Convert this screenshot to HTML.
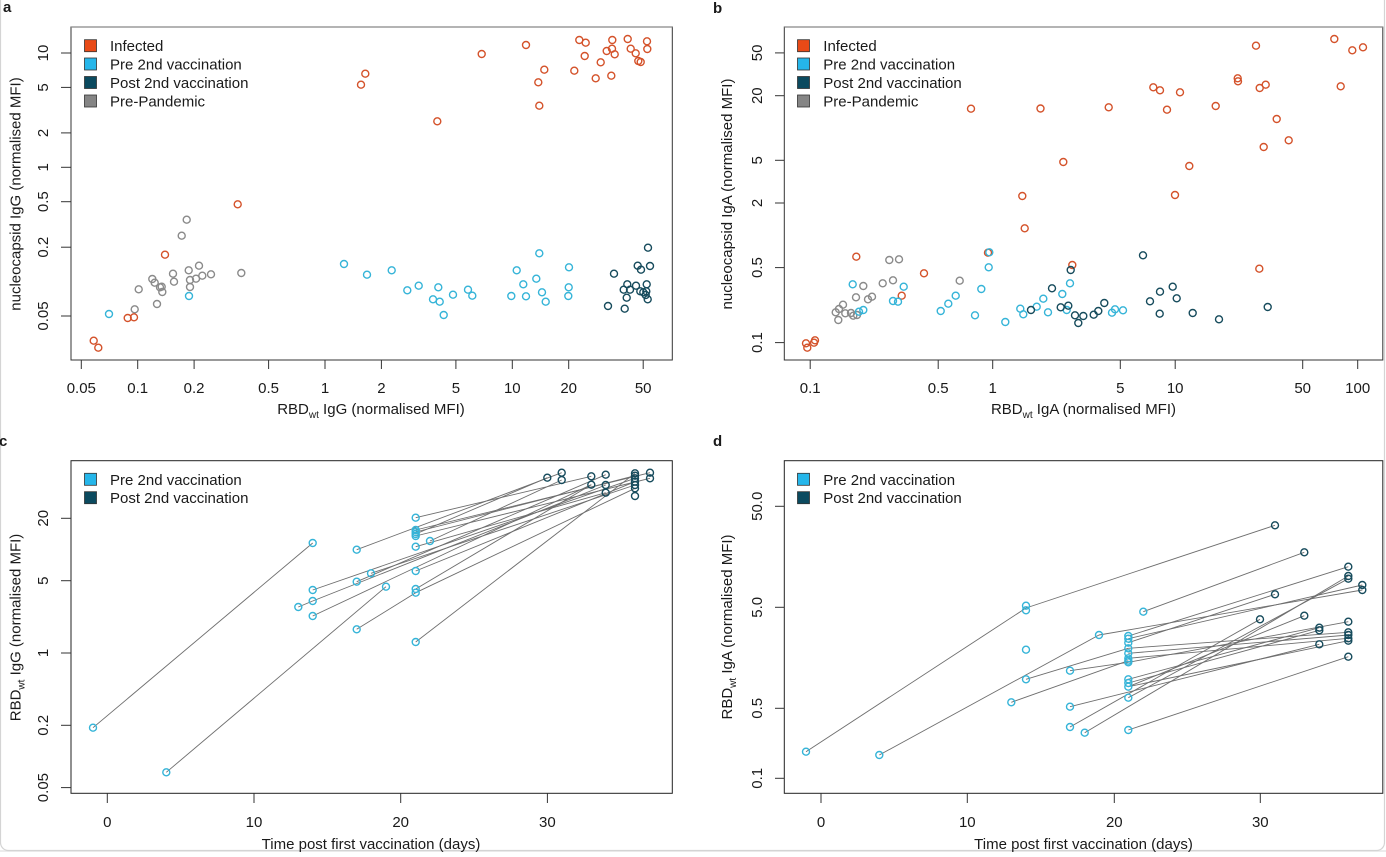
<!DOCTYPE html>
<html><head><meta charset="utf-8"><style>
html,body{margin:0;padding:0;background:#fff;}
body{width:1386px;height:852px;overflow:hidden;}
svg text{font-family:"Liberation Sans",Arial,sans-serif;fill:#1a1a1a;}
</style></head><body>
<svg width="1386" height="852" viewBox="0 0 1386 852" xmlns="http://www.w3.org/2000/svg">
<rect x="0" y="0" width="1386" height="852" fill="#fff"/>
<rect x="0" y="850" width="1386" height="2" fill="#ececec"/>
<rect x="0.5" y="-10" width="1384" height="860.5" rx="8" fill="none" stroke="#d4d4d4" stroke-width="1.2"/>

<g font-size="15">
<!-- panel labels -->
<text x="3" y="12" font-weight="bold" font-size="15">a</text>
<text x="713" y="13" font-weight="bold" font-size="15">b</text>
<text x="-1" y="446" font-weight="bold" font-size="15">c</text>
<text x="713" y="446" font-weight="bold" font-size="15">d</text>

<!-- ================= PANEL A ================= -->
<rect x="71" y="27" width="601.3" height="333" fill="none" stroke="#333" stroke-width="1"/>
<line x1="71" y1="27" x2="672.3" y2="27" stroke="#888" stroke-width="1.2"/>
<g stroke="#333" stroke-width="1">
<line x1="81.3" y1="360" x2="81.3" y2="369"/><line x1="137.7" y1="360" x2="137.7" y2="369"/>
<line x1="194.1" y1="360" x2="194.1" y2="369"/><line x1="268.6" y1="360" x2="268.6" y2="369"/>
<line x1="325" y1="360" x2="325" y2="369"/><line x1="381.4" y1="360" x2="381.4" y2="369"/>
<line x1="455.9" y1="360" x2="455.9" y2="369"/><line x1="512.3" y1="360" x2="512.3" y2="369"/>
<line x1="568.7" y1="360" x2="568.7" y2="369"/><line x1="643.2" y1="360" x2="643.2" y2="369"/>
<line x1="61" y1="53" x2="71" y2="53"/><line x1="61" y1="87.4" x2="71" y2="87.4"/>
<line x1="61" y1="132.9" x2="71" y2="132.9"/><line x1="61" y1="167.3" x2="71" y2="167.3"/>
<line x1="61" y1="201.7" x2="71" y2="201.7"/><line x1="61" y1="247.2" x2="71" y2="247.2"/>
<line x1="61" y1="316" x2="71" y2="316"/>
</g>
<g text-anchor="middle">
<text x="81.3" y="393">0.05</text><text x="137.7" y="393">0.1</text><text x="194.1" y="393">0.2</text>
<text x="268.6" y="393">0.5</text><text x="325" y="393">1</text><text x="381.4" y="393">2</text>
<text x="455.9" y="393">5</text><text x="512.3" y="393">10</text><text x="568.7" y="393">20</text>
<text x="643.2" y="393">50</text>
<text transform="translate(48,53) rotate(-90)">10</text>
<text transform="translate(48,87.4) rotate(-90)">5</text>
<text transform="translate(48,132.9) rotate(-90)">2</text>
<text transform="translate(48,167.3) rotate(-90)">1</text>
<text transform="translate(48,201.7) rotate(-90)">0.5</text>
<text transform="translate(48,247.2) rotate(-90)">0.2</text>
<text transform="translate(48,316) rotate(-90)">0.05</text>
<text x="371" y="414">RBD<tspan font-size="10" dy="4">wt</tspan><tspan dy="-4"> IgG (normalised MFI)</tspan></text>
<text transform="translate(20.5,194) rotate(-90)">nucleocapsid IgG (normalised MFI)</text>
</g>
<!-- legend a -->
<g stroke="#333" stroke-width="0.8">
<rect x="84.5" y="39.7" width="12" height="12" fill="#E84A17"/>
<rect x="84.5" y="58" width="12" height="12" fill="#25B6EA"/>
<rect x="84.5" y="76.5" width="12" height="12" fill="#0B4A5F"/>
<rect x="84.5" y="95" width="12" height="12" fill="#858585"/>
</g>
<text x="110" y="51">Infected</text>
<text x="110" y="69.5">Pre 2nd vaccination</text>
<text x="110" y="88">Post 2nd vaccination</text>
<text x="110" y="106.5">Pre-Pandemic</text>

<g fill="none" stroke-width="1.4">
<g stroke="#8A8A8A">
<circle cx="186.7" cy="219.7" r="3.5"/><circle cx="181.7" cy="235.7" r="3.5"/><circle cx="199" cy="265.7" r="3.5"/><circle cx="188.7" cy="270.3" r="3.5"/><circle cx="173" cy="273.7" r="3.5"/><circle cx="211" cy="274.3" r="3.5"/><circle cx="202.3" cy="275.7" r="3.5"/><circle cx="241.3" cy="273" r="3.5"/><circle cx="196" cy="278.7" r="3.5"/><circle cx="190" cy="280" r="3.5"/><circle cx="174" cy="281.7" r="3.5"/><circle cx="152.3" cy="279" r="3.5"/><circle cx="154.7" cy="282.7" r="3.5"/><circle cx="161.7" cy="286.7" r="3.5"/><circle cx="160" cy="287.3" r="3.5"/><circle cx="162.3" cy="292" r="3.5"/><circle cx="138.7" cy="289.3" r="3.5"/><circle cx="190" cy="287" r="3.5"/><circle cx="157" cy="304" r="3.5"/><circle cx="134.7" cy="309.3" r="3.5"/>
</g>
<g stroke="#D4522A">
<circle cx="93.7" cy="340.7" r="3.5"/><circle cx="98.3" cy="347.7" r="3.5"/><circle cx="127.7" cy="318" r="3.5"/><circle cx="134" cy="317.3" r="3.5"/><circle cx="165" cy="254.7" r="3.5"/><circle cx="237.7" cy="204.3" r="3.5"/><circle cx="361" cy="84.7" r="3.5"/><circle cx="365.3" cy="73.7" r="3.5"/><circle cx="481.7" cy="54" r="3.5"/><circle cx="526" cy="45" r="3.5"/><circle cx="437.3" cy="121.3" r="3.5"/><circle cx="538.3" cy="82.3" r="3.5"/><circle cx="539.3" cy="105.7" r="3.5"/><circle cx="544.3" cy="69.7" r="3.5"/><circle cx="574.3" cy="70.7" r="3.5"/><circle cx="579.3" cy="40" r="3.5"/><circle cx="585.7" cy="42.7" r="3.5"/><circle cx="584.7" cy="56" r="3.5"/><circle cx="595.7" cy="78.3" r="3.5"/><circle cx="600.7" cy="62.3" r="3.5"/><circle cx="606.7" cy="51" r="3.5"/><circle cx="612.3" cy="40" r="3.5"/><circle cx="612" cy="48.7" r="3.5"/><circle cx="614.7" cy="54.3" r="3.5"/><circle cx="611.3" cy="75.7" r="3.5"/><circle cx="627.7" cy="39" r="3.5"/><circle cx="630.7" cy="48.7" r="3.5"/><circle cx="635.7" cy="53.3" r="3.5"/><circle cx="638.3" cy="61" r="3.5"/><circle cx="640.7" cy="62" r="3.5"/><circle cx="647" cy="41.3" r="3.5"/><circle cx="647.3" cy="49" r="3.5"/>
</g>
<g stroke="#35B4D8">
<circle cx="109" cy="314" r="3.5"/><circle cx="189" cy="296" r="3.5"/><circle cx="344" cy="264" r="3.5"/><circle cx="367" cy="274.7" r="3.5"/><circle cx="391.7" cy="270.3" r="3.5"/><circle cx="407.3" cy="290.3" r="3.5"/><circle cx="418.7" cy="285.7" r="3.5"/><circle cx="433" cy="299.3" r="3.5"/><circle cx="438.3" cy="287.3" r="3.5"/><circle cx="439.7" cy="301.7" r="3.5"/><circle cx="443.7" cy="315" r="3.5"/><circle cx="453" cy="294.7" r="3.5"/><circle cx="468" cy="289.7" r="3.5"/><circle cx="472.3" cy="295.7" r="3.5"/><circle cx="511.3" cy="296" r="3.5"/><circle cx="516.7" cy="270.3" r="3.5"/><circle cx="523.3" cy="284.3" r="3.5"/><circle cx="526" cy="296.3" r="3.5"/><circle cx="536.3" cy="278.7" r="3.5"/><circle cx="539.3" cy="253.3" r="3.5"/><circle cx="542" cy="292.3" r="3.5"/><circle cx="545.7" cy="301.7" r="3.5"/><circle cx="568.3" cy="296" r="3.5"/><circle cx="568.7" cy="287.3" r="3.5"/><circle cx="569" cy="267.3" r="3.5"/>
</g>
<g stroke="#164B5C">
<circle cx="608" cy="306" r="3.5"/><circle cx="614" cy="273.7" r="3.5"/><circle cx="624.7" cy="308.7" r="3.5"/><circle cx="623.7" cy="289.7" r="3.5"/><circle cx="626.7" cy="297.7" r="3.5"/><circle cx="627.3" cy="284.3" r="3.5"/><circle cx="630" cy="289.7" r="3.5"/><circle cx="636" cy="285.7" r="3.5"/><circle cx="637.7" cy="265.7" r="3.5"/><circle cx="641" cy="269.7" r="3.5"/><circle cx="640.3" cy="291.3" r="3.5"/><circle cx="643.3" cy="292.3" r="3.5"/><circle cx="646.7" cy="284.3" r="3.5"/><circle cx="646.3" cy="291.3" r="3.5"/><circle cx="647.7" cy="299.3" r="3.5"/><circle cx="645.7" cy="295" r="3.5"/><circle cx="648" cy="247.7" r="3.5"/><circle cx="650" cy="266" r="3.5"/>
</g>
</g>

<!-- ================= PANEL B ================= -->
<rect x="784.3" y="27" width="598.5" height="333" fill="none" stroke="#333" stroke-width="1"/>
<line x1="784.3" y1="27" x2="1383" y2="27" stroke="#888" stroke-width="1.2"/>
<g stroke="#333" stroke-width="1">
<line x1="810.2" y1="360" x2="810.2" y2="369"/><line x1="938.2" y1="360" x2="938.2" y2="369"/>
<line x1="992.7" y1="360" x2="992.7" y2="369"/><line x1="1120.3" y1="360" x2="1120.3" y2="369"/>
<line x1="1175.2" y1="360" x2="1175.2" y2="369"/><line x1="1302.7" y1="360" x2="1302.7" y2="369"/>
<line x1="1357.7" y1="360" x2="1357.7" y2="369"/>
<line x1="775" y1="52.9" x2="784.3" y2="52.9"/><line x1="775" y1="95.7" x2="784.3" y2="95.7"/>
<line x1="775" y1="160.3" x2="784.3" y2="160.3"/><line x1="775" y1="203" x2="784.3" y2="203"/>
<line x1="775" y1="267.6" x2="784.3" y2="267.6"/><line x1="775" y1="342.6" x2="784.3" y2="342.6"/>
</g>
<g text-anchor="middle">
<text x="810.2" y="393">0.1</text><text x="938.2" y="393">0.5</text><text x="992.7" y="393">1</text>
<text x="1120.3" y="393">5</text><text x="1175.2" y="393">10</text><text x="1302.7" y="393">50</text>
<text x="1357.7" y="393">100</text>
<text transform="translate(762,52.9) rotate(-90)">50</text>
<text transform="translate(762,95.7) rotate(-90)">20</text>
<text transform="translate(762,160.3) rotate(-90)">5</text>
<text transform="translate(762,203) rotate(-90)">2</text>
<text transform="translate(762,267.6) rotate(-90)">0.5</text>
<text transform="translate(762,342.6) rotate(-90)">0.1</text>
<text x="1083.5" y="414">RBD<tspan font-size="10" dy="4">wt</tspan><tspan dy="-4"> IgA (normalised MFI)</tspan></text>
<text transform="translate(732,194) rotate(-90)">nucleocapsid IgA (normalised MFI)</text>
</g>
<g stroke="#333" stroke-width="0.8">
<rect x="797.5" y="39.7" width="12" height="12" fill="#E84A17"/>
<rect x="797.5" y="58" width="12" height="12" fill="#25B6EA"/>
<rect x="797.5" y="76.5" width="12" height="12" fill="#0B4A5F"/>
<rect x="797.5" y="95" width="12" height="12" fill="#858585"/>
</g>
<text x="823.3" y="51">Infected</text>
<text x="823.3" y="69.5">Pre 2nd vaccination</text>
<text x="823.3" y="88">Post 2nd vaccination</text>
<text x="823.3" y="106.5">Pre-Pandemic</text>

<g fill="none" stroke-width="1.4">
<g stroke="#8A8A8A">
<circle cx="889.3" cy="260" r="3.5"/><circle cx="899" cy="259.3" r="3.5"/><circle cx="959.7" cy="280.7" r="3.5"/><circle cx="893" cy="280.3" r="3.5"/><circle cx="882.7" cy="283.3" r="3.5"/><circle cx="863.3" cy="286" r="3.5"/><circle cx="872" cy="296.7" r="3.5"/><circle cx="868" cy="299.3" r="3.5"/><circle cx="856" cy="297.3" r="3.5"/><circle cx="843" cy="304.7" r="3.5"/><circle cx="839" cy="309" r="3.5"/><circle cx="835.7" cy="312.3" r="3.5"/><circle cx="845.3" cy="313.3" r="3.5"/><circle cx="851" cy="313" r="3.5"/><circle cx="853.3" cy="315.7" r="3.5"/><circle cx="838.3" cy="320" r="3.5"/><circle cx="857" cy="315" r="3.5"/>
</g>
<g stroke="#D4522A">
<circle cx="971" cy="108.7" r="3.5"/><circle cx="1040.5" cy="108.5" r="3.5"/><circle cx="1022.3" cy="196" r="3.5"/><circle cx="1024.7" cy="228.3" r="3.5"/><circle cx="988" cy="252.7" r="3.5"/><circle cx="856.3" cy="256.7" r="3.5"/><circle cx="924" cy="273.3" r="3.5"/><circle cx="901.7" cy="295.7" r="3.5"/><circle cx="806" cy="343.3" r="3.5"/><circle cx="807.3" cy="347.7" r="3.5"/><circle cx="814" cy="342.7" r="3.5"/><circle cx="815" cy="340.3" r="3.5"/><circle cx="1108.7" cy="107.3" r="3.5"/><circle cx="1063.3" cy="162" r="3.5"/><circle cx="1153.3" cy="87.3" r="3.5"/><circle cx="1160" cy="90.3" r="3.5"/><circle cx="1167" cy="109.7" r="3.5"/><circle cx="1180" cy="92.3" r="3.5"/><circle cx="1215.7" cy="106" r="3.5"/><circle cx="1189.3" cy="166" r="3.5"/><circle cx="1175" cy="195" r="3.5"/><circle cx="1237.7" cy="78.3" r="3.5"/><circle cx="1238" cy="81.3" r="3.5"/><circle cx="1256" cy="45.7" r="3.5"/><circle cx="1259.7" cy="88" r="3.5"/><circle cx="1265.7" cy="84.7" r="3.5"/><circle cx="1276.7" cy="119" r="3.5"/><circle cx="1263.7" cy="147" r="3.5"/><circle cx="1288.7" cy="140.3" r="3.5"/><circle cx="1259.3" cy="268.7" r="3.5"/><circle cx="1334.3" cy="39" r="3.5"/><circle cx="1352.3" cy="50.3" r="3.5"/><circle cx="1363" cy="47.3" r="3.5"/><circle cx="1340.7" cy="86.3" r="3.5"/><circle cx="1072.3" cy="265" r="3.5"/>
</g>
<g stroke="#35B4D8">
<circle cx="852.7" cy="284.3" r="3.5"/><circle cx="863.3" cy="310" r="3.5"/><circle cx="859" cy="311.7" r="3.5"/><circle cx="893" cy="301" r="3.5"/><circle cx="898" cy="301.7" r="3.5"/><circle cx="903.7" cy="286.7" r="3.5"/><circle cx="940.7" cy="311" r="3.5"/><circle cx="948.3" cy="303.7" r="3.5"/><circle cx="955.7" cy="295.7" r="3.5"/><circle cx="975" cy="315.3" r="3.5"/><circle cx="981.3" cy="289" r="3.5"/><circle cx="988.7" cy="267.3" r="3.5"/><circle cx="989.3" cy="252.3" r="3.5"/><circle cx="1005.3" cy="322" r="3.5"/><circle cx="1020.3" cy="308.7" r="3.5"/><circle cx="1023.3" cy="314.3" r="3.5"/><circle cx="1036.7" cy="306.7" r="3.5"/><circle cx="1043.3" cy="298.7" r="3.5"/><circle cx="1048" cy="312.3" r="3.5"/><circle cx="1062.3" cy="294" r="3.5"/><circle cx="1066.7" cy="310" r="3.5"/><circle cx="1070" cy="283.3" r="3.5"/><circle cx="1112" cy="312.7" r="3.5"/><circle cx="1115" cy="309.3" r="3.5"/><circle cx="1123" cy="310.3" r="3.5"/>
</g>
<g stroke="#164B5C">
<circle cx="1031" cy="310" r="3.5"/><circle cx="1052" cy="288.3" r="3.5"/><circle cx="1060.7" cy="307.3" r="3.5"/><circle cx="1068.3" cy="305.7" r="3.5"/><circle cx="1070.7" cy="270" r="3.5"/><circle cx="1075" cy="315.3" r="3.5"/><circle cx="1078.3" cy="323" r="3.5"/><circle cx="1083.3" cy="316" r="3.5"/><circle cx="1093.7" cy="314.7" r="3.5"/><circle cx="1098.3" cy="311" r="3.5"/><circle cx="1104.3" cy="303" r="3.5"/><circle cx="1143" cy="255.3" r="3.5"/><circle cx="1150" cy="301.3" r="3.5"/><circle cx="1160" cy="291.7" r="3.5"/><circle cx="1159.7" cy="313.7" r="3.5"/><circle cx="1172.7" cy="286.7" r="3.5"/><circle cx="1176.7" cy="298.3" r="3.5"/><circle cx="1192.7" cy="313" r="3.5"/><circle cx="1219" cy="319.3" r="3.5"/><circle cx="1267.7" cy="307" r="3.5"/>
</g>
</g>

<!-- ================= PANEL C ================= -->
<rect x="71" y="460.7" width="601.3" height="332.6" fill="none" stroke="#222" stroke-width="1"/>
<g stroke="#333" stroke-width="1">
<line x1="107.3" y1="793.3" x2="107.3" y2="803"/><line x1="254" y1="793.3" x2="254" y2="803"/>
<line x1="400.7" y1="793.3" x2="400.7" y2="803"/><line x1="547.4" y1="793.3" x2="547.4" y2="803"/>
<line x1="61" y1="518.3" x2="71" y2="518.3"/><line x1="61" y1="580.7" x2="71" y2="580.7"/>
<line x1="61" y1="653" x2="71" y2="653"/><line x1="61" y1="725.3" x2="71" y2="725.3"/>
<line x1="61" y1="787.6" x2="71" y2="787.6"/>
</g>
<g text-anchor="middle">
<text x="107.3" y="827">0</text><text x="254" y="827">10</text><text x="400.7" y="827">20</text><text x="547.4" y="827">30</text>
<text transform="translate(48,518.3) rotate(-90)">20</text>
<text transform="translate(48,580.7) rotate(-90)">5</text>
<text transform="translate(48,653) rotate(-90)">1</text>
<text transform="translate(48,725.3) rotate(-90)">0.2</text>
<text transform="translate(48,787.6) rotate(-90)">0.05</text>
<text x="371" y="849">Time post first vaccination (days)</text>
<text transform="translate(20.5,627.5) rotate(-90)">RBD<tspan font-size="10" dy="4">wt</tspan><tspan dy="-4"> IgG (normalised MFI)</tspan></text>
</g>
<g stroke="#333" stroke-width="0.8">
<rect x="84.5" y="473.3" width="12" height="12" fill="#25B6EA"/>
<rect x="84.5" y="491.7" width="12" height="12" fill="#0B4A5F"/>
</g>
<text x="110" y="484.8">Pre 2nd vaccination</text>
<text x="110" y="503.2">Post 2nd vaccination</text>
<g stroke="#6e6e6e" stroke-width="0.9">
<line x1="93" y1="727.7" x2="312.7" y2="543"/>
<line x1="166.3" y1="772.3" x2="386" y2="586.7"/>
<line x1="312.7" y1="590" x2="635" y2="478.3"/>
<line x1="312.7" y1="601" x2="605.7" y2="485"/>
<line x1="298.3" y1="607" x2="312.7" y2="601"/>
<line x1="312.7" y1="616" x2="591.3" y2="484.7"/>
<line x1="356.7" y1="549.7" x2="561.7" y2="472.7"/>
<line x1="356.7" y1="581.7" x2="605.7" y2="474.7"/>
<line x1="356.7" y1="629.3" x2="415.7" y2="592.7"/>
<line x1="371" y1="573.3" x2="635" y2="485"/>
<line x1="415.7" y1="517.7" x2="591.3" y2="476.3"/>
<line x1="415.7" y1="530" x2="650" y2="472.7"/>
<line x1="415.7" y1="532" x2="635" y2="475.7"/>
<line x1="415.7" y1="534" x2="547.3" y2="477.7"/>
<line x1="415.7" y1="536" x2="650" y2="478.3"/>
<line x1="430" y1="541" x2="561.7" y2="480"/>
<line x1="415.7" y1="546.7" x2="605.7" y2="492.7"/>
<line x1="415.7" y1="571" x2="635" y2="481.7"/>
<line x1="415.7" y1="589" x2="591.3" y2="484.7"/>
<line x1="415.7" y1="592.7" x2="635" y2="488.3"/>
<line x1="415.7" y1="642" x2="635" y2="473.3"/>
</g>
<g fill="none" stroke-width="1.4">
<g stroke="#35B4D8">
<circle cx="93" cy="727.7" r="3.5"/><circle cx="166.3" cy="772.3" r="3.5"/><circle cx="312.7" cy="543" r="3.5"/><circle cx="312.7" cy="590" r="3.5"/><circle cx="312.7" cy="601" r="3.5"/><circle cx="298.3" cy="607" r="3.5"/><circle cx="312.7" cy="616" r="3.5"/><circle cx="356.7" cy="549.7" r="3.5"/><circle cx="356.7" cy="581.7" r="3.5"/><circle cx="356.7" cy="629.3" r="3.5"/><circle cx="371" cy="573.3" r="3.5"/><circle cx="386" cy="586.7" r="3.5"/><circle cx="415.7" cy="517.7" r="3.5"/><circle cx="415.7" cy="530" r="3.5"/><circle cx="415.7" cy="532" r="3.5"/><circle cx="415.7" cy="534" r="3.5"/><circle cx="415.7" cy="536" r="3.5"/><circle cx="430" cy="541" r="3.5"/><circle cx="415.7" cy="546.7" r="3.5"/><circle cx="415.7" cy="571" r="3.5"/><circle cx="415.7" cy="589" r="3.5"/><circle cx="415.7" cy="592.7" r="3.5"/><circle cx="415.7" cy="642" r="3.5"/>
</g>
<g stroke="#164B5C">
<circle cx="547.3" cy="477.7" r="3.5"/><circle cx="561.7" cy="472.7" r="3.5"/><circle cx="561.7" cy="480" r="3.5"/><circle cx="591.3" cy="476.3" r="3.5"/><circle cx="591.3" cy="484.7" r="3.5"/><circle cx="605.7" cy="474.7" r="3.5"/><circle cx="605.7" cy="485" r="3.5"/><circle cx="605.7" cy="492.7" r="3.5"/><circle cx="635" cy="473.3" r="3.5"/><circle cx="635" cy="475.7" r="3.5"/><circle cx="635" cy="478.3" r="3.5"/><circle cx="635" cy="481.7" r="3.5"/><circle cx="635" cy="485" r="3.5"/><circle cx="635" cy="488.3" r="3.5"/><circle cx="635" cy="496" r="3.5"/><circle cx="650" cy="472.7" r="3.5"/><circle cx="650" cy="478.3" r="3.5"/>
</g>
</g>

<!-- ================= PANEL D ================= -->
<rect x="784.3" y="460.7" width="598.5" height="332.6" fill="none" stroke="#222" stroke-width="1"/>
<g stroke="#333" stroke-width="1">
<line x1="821" y1="793.3" x2="821" y2="803"/><line x1="967.3" y1="793.3" x2="967.3" y2="803"/>
<line x1="1114.3" y1="793.3" x2="1114.3" y2="803"/><line x1="1260.3" y1="793.3" x2="1260.3" y2="803"/>
<line x1="775" y1="506.3" x2="784.3" y2="506.3"/><line x1="775" y1="607.3" x2="784.3" y2="607.3"/>
<line x1="775" y1="708.3" x2="784.3" y2="708.3"/><line x1="775" y1="778.3" x2="784.3" y2="778.3"/>
</g>
<g text-anchor="middle">
<text x="821" y="827">0</text><text x="967.3" y="827">10</text><text x="1114.3" y="827">20</text><text x="1260.3" y="827">30</text>
<text transform="translate(762,506.3) rotate(-90)">50.0</text>
<text transform="translate(762,607.3) rotate(-90)">5.0</text>
<text transform="translate(762,708.3) rotate(-90)">0.5</text>
<text transform="translate(762,778.3) rotate(-90)">0.1</text>
<text x="1083.5" y="849">Time post first vaccination (days)</text>
<text transform="translate(732,627) rotate(-90)">RBD<tspan font-size="10" dy="4">wt</tspan><tspan dy="-4"> IgA (normalised MFI)</tspan></text>
</g>
<g stroke="#333" stroke-width="0.8">
<rect x="797.5" y="473.3" width="12" height="12" fill="#25B6EA"/>
<rect x="797.5" y="491.7" width="12" height="12" fill="#0B4A5F"/>
</g>
<text x="823.3" y="484.8">Pre 2nd vaccination</text>
<text x="823.3" y="503.2">Post 2nd vaccination</text>
<g stroke="#6e6e6e" stroke-width="0.9">
<line x1="806" y1="751.7" x2="1026" y2="608"/>
<line x1="879.3" y1="755" x2="1099" y2="635"/>
<line x1="1026" y1="608" x2="1275" y2="525.3"/>
<line x1="1143.3" y1="611.7" x2="1304.3" y2="552.3"/>
<line x1="1128.3" y1="636" x2="1348.3" y2="566.7"/>
<line x1="1128.3" y1="638.7" x2="1362.3" y2="585"/>
<line x1="1128.3" y1="642.7" x2="1275" y2="594.3"/>
<line x1="1128.3" y1="648.3" x2="1348.3" y2="632.3"/>
<line x1="1128.3" y1="653.3" x2="1348.3" y2="635"/>
<line x1="1128.3" y1="658.3" x2="1348.3" y2="638.3"/>
<line x1="1128.3" y1="662.3" x2="1348.3" y2="621.7"/>
<line x1="1026" y1="679.3" x2="1128.3" y2="648.3"/>
<line x1="1011.3" y1="702.3" x2="1128.3" y2="660.7"/>
<line x1="1070" y1="670.7" x2="1128.3" y2="662.3"/>
<line x1="1070" y1="706.7" x2="1319.3" y2="644.3"/>
<line x1="1070" y1="727" x2="1260" y2="619.3"/>
<line x1="1084.7" y1="732.7" x2="1348.3" y2="576"/>
<line x1="1128.3" y1="697.7" x2="1348.3" y2="578.7"/>
<line x1="1128.3" y1="730" x2="1348.3" y2="656.7"/>
<line x1="1128.3" y1="679.3" x2="1319.3" y2="627.7"/>
<line x1="1128.3" y1="683" x2="1319.3" y2="630.3"/>
<line x1="1128.3" y1="686.7" x2="1348.3" y2="640.7"/>
<line x1="1099" y1="635" x2="1362.3" y2="590"/>
<line x1="1128.3" y1="686.7" x2="1304.3" y2="615.7"/>
</g>
<g fill="none" stroke-width="1.4">
<g stroke="#35B4D8">
<circle cx="806" cy="751.7" r="3.5"/><circle cx="879.3" cy="755" r="3.5"/><circle cx="1026" cy="605.7" r="3.5"/><circle cx="1026" cy="610.3" r="3.5"/><circle cx="1026" cy="649.7" r="3.5"/><circle cx="1026" cy="679.3" r="3.5"/><circle cx="1011.3" cy="702.3" r="3.5"/><circle cx="1070" cy="670.7" r="3.5"/><circle cx="1070" cy="706.7" r="3.5"/><circle cx="1070" cy="727" r="3.5"/><circle cx="1084.7" cy="732.7" r="3.5"/><circle cx="1099" cy="635" r="3.5"/><circle cx="1128.3" cy="636" r="3.5"/><circle cx="1128.3" cy="638.7" r="3.5"/><circle cx="1128.3" cy="642.7" r="3.5"/><circle cx="1128.3" cy="648.3" r="3.5"/><circle cx="1128.3" cy="653.3" r="3.5"/><circle cx="1128.3" cy="658.3" r="3.5"/><circle cx="1128.3" cy="660.7" r="3.5"/><circle cx="1128.3" cy="662.3" r="3.5"/><circle cx="1128.3" cy="679.3" r="3.5"/><circle cx="1128.3" cy="683" r="3.5"/><circle cx="1128.3" cy="686.7" r="3.5"/><circle cx="1128.3" cy="697.7" r="3.5"/><circle cx="1128.3" cy="730" r="3.5"/><circle cx="1143.3" cy="611.7" r="3.5"/>
</g>
<g stroke="#164B5C">
<circle cx="1275" cy="525.3" r="3.5"/><circle cx="1304.3" cy="552.3" r="3.5"/><circle cx="1275" cy="594.3" r="3.5"/><circle cx="1260" cy="619.3" r="3.5"/><circle cx="1304.3" cy="615.7" r="3.5"/><circle cx="1319.3" cy="627.7" r="3.5"/><circle cx="1319.3" cy="630.3" r="3.5"/><circle cx="1319.3" cy="644.3" r="3.5"/><circle cx="1348.3" cy="566.7" r="3.5"/><circle cx="1348.3" cy="576" r="3.5"/><circle cx="1348.3" cy="578.7" r="3.5"/><circle cx="1362.3" cy="585" r="3.5"/><circle cx="1362.3" cy="590" r="3.5"/><circle cx="1348.3" cy="621.7" r="3.5"/><circle cx="1348.3" cy="632.3" r="3.5"/><circle cx="1348.3" cy="635" r="3.5"/><circle cx="1348.3" cy="638.3" r="3.5"/><circle cx="1348.3" cy="640.7" r="3.5"/><circle cx="1348.3" cy="656.7" r="3.5"/>
</g>
</g>
</g>
</svg>
</body></html>
